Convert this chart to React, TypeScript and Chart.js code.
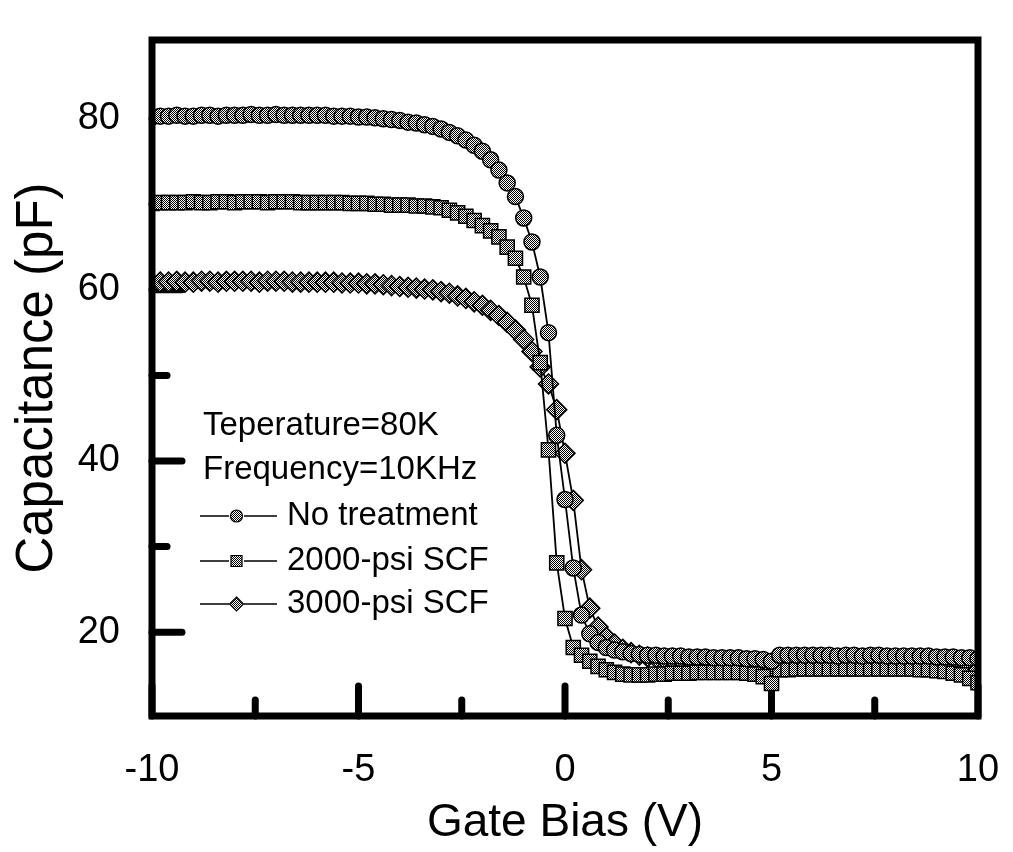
import React, { useEffect, useRef } from 'react';
import { Chart, registerables } from 'chart.js';

Chart.register(...registerables);

// Gate bias (V)
const gateBias = [
  -10, -9.8, -9.6, -9.4, -9.2, -9, -8.8, -8.6, -8.4, -8.2,
  -8, -7.8, -7.6, -7.4, -7.2, -7, -6.8, -6.6, -6.4, -6.2,
  -6, -5.8, -5.6, -5.4, -5.2, -5, -4.8, -4.6, -4.4, -4.2,
  -4, -3.8, -3.6, -3.4, -3.2, -3, -2.8, -2.6, -2.4, -2.2,
  -2, -1.8, -1.6, -1.4, -1.2, -1, -0.8, -0.6, -0.4, -0.2,
  0, 0.2, 0.4, 0.6, 0.8, 1, 1.2, 1.4, 1.6, 1.8,
  2, 2.2, 2.4, 2.6, 2.8, 3, 3.2, 3.4, 3.6, 3.8,
  4, 4.2, 4.4, 4.6, 4.8, 5, 5.2, 5.4, 5.6, 5.8,
  6, 6.2, 6.4, 6.6, 6.8, 7, 7.2, 7.4, 7.6, 7.8,
  8, 8.2, 8.4, 8.6, 8.8, 9, 9.2, 9.4, 9.6, 9.8,
  10,
];

// Capacitance (pF)
const noTreatment = [
  80.2, 80.3, 80.3, 80.4, 80.3, 80.3, 80.4, 80.4, 80.3, 80.4,
  80.4, 80.4, 80.5, 80.4, 80.4, 80.5, 80.4, 80.4, 80.4, 80.4,
  80.4, 80.4, 80.3, 80.3, 80.3, 80.2, 80.2, 80.1, 80.0, 79.9,
  79.8, 79.6, 79.5, 79.3, 79.1, 78.8, 78.4, 78.0, 77.5, 76.9,
  76.2, 75.2, 74.0, 72.5, 70.9, 68.4, 65.6, 61.5, 55.0, 43.0,
  35.5, 27.5, 22.0, 19.8, 18.8, 18.2, 17.9, 17.7, 17.5, 17.4,
  17.3, 17.3, 17.2, 17.2, 17.2, 17.1, 17.1, 17.1, 17.0, 17.0,
  17.0, 17.0, 16.9, 16.9, 16.8, 16.6, 17.3, 17.3, 17.3, 17.3,
  17.3, 17.3, 17.3, 17.2, 17.3, 17.3, 17.2, 17.3, 17.3, 17.2,
  17.2, 17.2, 17.2, 17.2, 17.2, 17.1, 17.1, 17.1, 17.0, 17.0,
  16.9,
];

const scf2000 = [
  70.1, 70.2, 70.2, 70.2, 70.2, 70.3, 70.2, 70.2, 70.3, 70.3,
  70.2, 70.3, 70.3, 70.3, 70.2, 70.3, 70.3, 70.3, 70.2, 70.2,
  70.2, 70.2, 70.2, 70.2, 70.1, 70.1, 70.1, 70.0, 70.0, 69.9,
  69.9, 69.9, 69.8, 69.8, 69.7, 69.6, 69.3, 69.0, 68.6, 68.1,
  67.5, 66.9, 66.2, 65.0, 63.7, 61.5, 58.2, 51.5, 41.3, 28.1,
  21.6, 18.2, 17.3, 16.6, 16.0, 15.6, 15.3, 15.1, 15.0, 15.0,
  15.0, 15.1, 15.1, 15.2, 15.2, 15.2, 15.3, 15.3, 15.3, 15.3,
  15.3, 15.3, 15.2, 15.1, 14.8, 14.0, 15.6, 15.6, 15.7, 15.7,
  15.7, 15.7, 15.7, 15.7, 15.7, 15.7, 15.7, 15.7, 15.7, 15.7,
  15.7, 15.7, 15.7, 15.6, 15.6, 15.5, 15.4, 15.2, 15.0, 14.6,
  14.1,
];

const scf3000 = [
  60.8, 60.9, 60.9, 61.0, 60.9, 60.9, 61.0, 61.0, 60.9, 61.0,
  61.0, 61.0, 61.0, 60.9, 61.0, 61.0, 61.0, 60.9, 60.9, 60.9,
  60.9, 60.9, 60.9, 60.8, 60.8, 60.8, 60.7, 60.7, 60.6, 60.5,
  60.4, 60.3, 60.2, 60.1, 60.0, 59.8, 59.6, 59.3, 59.0, 58.6,
  58.2, 57.6, 57.0, 56.2, 55.3, 54.2, 52.8, 51.0, 49.0, 46.0,
  40.9, 35.4, 27.3, 22.8, 20.6, 19.4, 18.6, 18.0, 17.6, 17.3,
  17.1, 17.0, 16.9, 16.9, 16.8, 16.8, 16.8, 16.7, 16.7, 16.7,
  16.7, 16.6, 16.6, 16.5, 16.3, 16.0, 16.8, 16.8, 16.8, 16.8,
  16.8, 16.9, 16.8, 16.8, 16.9, 16.8, 16.8, 16.8, 16.9, 16.8,
  16.8, 16.8, 16.8, 16.8, 16.7, 16.7, 16.6, 16.5, 16.3, 16.0,
  15.6,
];

const seriesNames = ['No treatment', '2000-psi SCF', '3000-psi SCF'];
const seriesMarkers = ['circle', 'rect', 'rectRot'];
const legendNotes = ['Teperature=80K', 'Frequency=10KHz'];

const xMajorTicks = [-10, -5, 0, 5, 10];
const xMinorTicks = [-7.5, -2.5, 2.5, 7.5];
const yMajorTicks = [20, 40, 60, 80];
const yMinorTicks = [30, 50, 70];

const FONT = '"Liberation Sans", Arial, Helvetica, sans-serif';

function makePattern(): CanvasPattern | string {
  const pc = document.createElement('canvas');
  pc.width = 4;
  pc.height = 4;
  const g = pc.getContext('2d');
  if (!g) return '#999';
  g.fillStyle = '#ffffff';
  g.fillRect(0, 0, 4, 4);
  g.fillStyle = '#000000';
  for (let yy = 0; yy < 4; yy++) {
    for (let xx = 0; xx < 4; xx++) {
      if ((xx + yy) % 2 === 0) g.fillRect(xx, yy, 1, 1);
    }
  }
  const p = g.createPattern(pc, 'repeat');
  return p || '#999';
}

export default function App() {
  const ref = useRef<HTMLCanvasElement | null>(null);

  useEffect(() => {
    const canvas = ref.current;
    if (!canvas) return;
    const pattern = makePattern();

    const radii = [8, 10, 10];
    const sets = [noTreatment, scf2000, scf3000];

    const decor = {
      id: 'decor',
      beforeDatasetsDraw(chart: any) {
        const { ctx, chartArea: a, scales } = chart;
        const xs = scales.x;
        const ys = scales.y;
        ctx.save();
        ctx.strokeStyle = '#000';
        ctx.lineWidth = 7;
        ctx.lineCap = 'round';
        const seg = (x1: number, y1: number, x2: number, y2: number) => {
          ctx.beginPath();
          ctx.moveTo(x1, y1);
          ctx.lineTo(x2, y2);
          ctx.stroke();
        };
        xMajorTicks.forEach((v) => {
          const px = xs.getPixelForValue(v);
          seg(px, a.bottom, px, a.bottom - 30);
        });
        xMinorTicks.forEach((v) => {
          const px = xs.getPixelForValue(v);
          seg(px, a.bottom, px, a.bottom - 16);
        });
        yMajorTicks.forEach((v) => {
          const py = ys.getPixelForValue(v);
          seg(a.left, py, a.left + 30, py);
        });
        yMinorTicks.forEach((v) => {
          const py = ys.getPixelForValue(v);
          seg(a.left, py, a.left + 15, py);
        });
        ctx.restore();
      },
      afterDatasetsDraw(chart: any) {
        const { ctx, chartArea: a } = chart;
        ctx.save();
        ctx.strokeStyle = '#000';
        ctx.lineWidth = 7;
        ctx.lineJoin = 'miter';
        ctx.strokeRect(a.left, a.top, a.right - a.left, a.bottom - a.top);
        ctx.restore();
      },
      afterDraw(chart: any) {
        const { ctx } = chart;
        ctx.save();
        ctx.fillStyle = '#000';
        ctx.font = `33px ${FONT}`;
        ctx.textBaseline = 'middle';
        ctx.textAlign = 'left';
        ctx.fillText(legendNotes[0], 203, 426);
        ctx.fillText(legendNotes[1], 203, 470);
        const rows = [516, 561, 604];
        seriesNames.forEach((name, i) => {
          const y = rows[i];
          ctx.strokeStyle = '#000';
          ctx.lineWidth = 1.5;
          ctx.beginPath();
          ctx.moveTo(200, y);
          ctx.lineTo(229, y);
          ctx.moveTo(244, y);
          ctx.lineTo(277, y);
          ctx.stroke();
          const cx = 236.5;
          ctx.fillStyle = pattern as any;
          ctx.lineWidth = 1.2;
          ctx.beginPath();
          if (seriesMarkers[i] === 'circle') {
            ctx.arc(cx, y, 6, 0, Math.PI * 2);
          } else if (seriesMarkers[i] === 'rect') {
            ctx.rect(cx - 5.5, y - 5.5, 11, 11);
          } else {
            ctx.moveTo(cx, y - 7);
            ctx.lineTo(cx + 7, y);
            ctx.lineTo(cx, y + 7);
            ctx.lineTo(cx - 7, y);
            ctx.closePath();
          }
          ctx.fill();
          ctx.stroke();
          ctx.fillStyle = '#000';
          ctx.fillText(name, 287, y);
        });
        ctx.restore();
      },
    };

    const chart = new Chart(canvas, {
      type: 'line',
      data: {
        datasets: seriesNames.map((name, i) => ({
          label: name,
          data: gateBias.map((x, k) => ({ x, y: sets[i][k] })),
          borderColor: '#000',
          borderWidth: 1.8,
          pointStyle: seriesMarkers[i] as any,
          pointRadius: radii[i],
          pointBackgroundColor: pattern as any,
          pointBorderColor: '#000',
          pointBorderWidth: 1.5,
          tension: 0,
          fill: false,
        })),
      },
      options: {
        animation: false,
        responsive: false,
        maintainAspectRatio: false,
        events: [],
        layout: { padding: { left: 0, top: 40, right: 35, bottom: 0 } },
        plugins: {
          legend: { display: false },
          tooltip: { enabled: false },
        },
        scales: {
          x: {
            type: 'linear',
            min: -10,
            max: 10,
            afterFit: (s: any) => {
              s.height = 136;
              s.paddingLeft = 0;
              s.paddingRight = 0;
              s.paddingTop = 0;
              s.paddingBottom = 0;
            },
            afterBuildTicks: (s: any) => {
              s.ticks = xMajorTicks.map((v) => ({ value: v }));
            },
            grid: { display: false, drawTicks: false },
            border: { display: false },
            ticks: {
              padding: 32,
              color: '#000',
              font: { family: FONT, size: 38 },
              maxRotation: 0,
              autoSkip: false,
              callback: (v: any) => String(v),
            },
            title: {
              display: true,
              text: 'Gate Bias (V)',
              color: '#000',
              font: { family: FONT, size: 46 },
              padding: { top: 0, bottom: 1 },
            },
          },
          y: {
            type: 'linear',
            min: 10.2,
            max: 89.2,
            afterFit: (s: any) => {
              s.width = 152;
              s.paddingLeft = 0;
              s.paddingRight = 0;
              s.paddingTop = 0;
              s.paddingBottom = 0;
            },
            afterBuildTicks: (s: any) => {
              s.ticks = yMajorTicks.map((v) => ({ value: v }));
            },
            grid: { display: false, drawTicks: false },
            border: { display: false },
            ticks: {
              padding: 32,
              color: '#000',
              font: { family: FONT, size: 38 },
              autoSkip: false,
              callback: (v: any) => String(v),
            },
            title: {
              display: true,
              text: 'Capacitance (pF)',
              color: '#000',
              font: { family: FONT, size: 51 },
              padding: { top: 7, bottom: 0 },
            },
          },
        },
      },
      plugins: [decor],
    });

    return () => {
      chart.destroy();
    };
  }, []);

  return (
    <div
      style={{
        position: 'fixed',
        left: 0,
        top: 0,
        width: 1013,
        height: 852,
        background: '#fff',
      }}
    >
      <canvas ref={ref} width={1013} height={852} style={{ display: 'block', width: 1013, height: 852 }} />
    </div>
  );
}
